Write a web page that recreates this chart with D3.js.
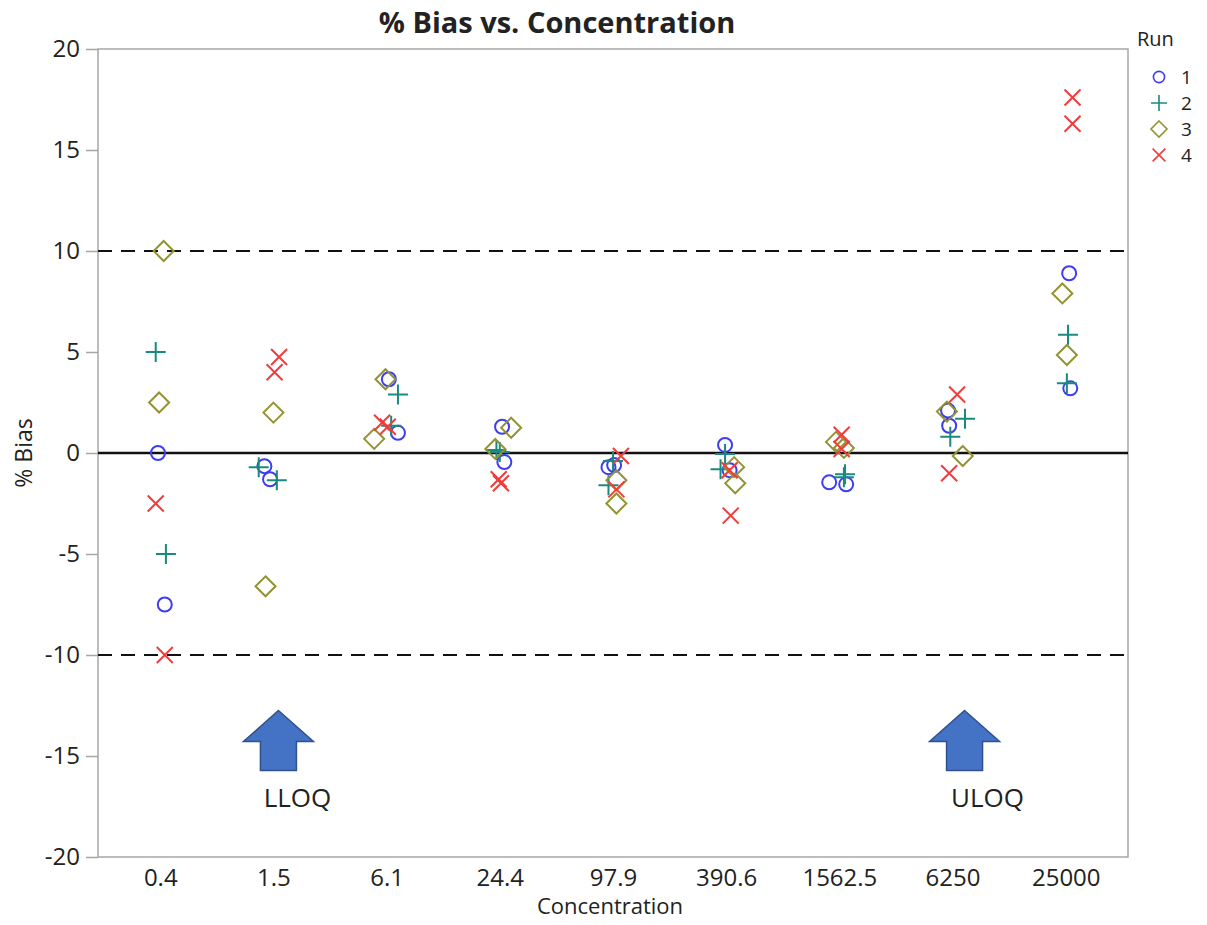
<!DOCTYPE html>
<html>
<head>
<meta charset="utf-8">
<script src="https://cdn.jsdelivr.net/npm/d3@7"></script>
<style>
  body { margin: 0; background: #fff; }
  text { font-family: "Open Sans", "Noto Sans", sans-serif; fill: #222; }
</style>
</head>
<body>
<script>
// concentrations on the x axis
const concentrations = ["0.4", "1.5", "6.1", "24.4", "97.9", "390.6", "1562.5", "6250", "25000"];
const runs = ["1", "2", "3", "4"];
const yTicks = [-20, -15, -10, -5, 0, 5, 10, 15, 20];

// % bias, two replicates per concentration
const run1 = [[0, -7.5], [-0.65, -1.3], [3.65, 1.0], [1.3, -0.45], [-0.6, -0.7], [0.4, -0.85], [-1.45, -1.55], [2.1, 1.35], [8.9, 3.2]];
const run2 = [[5, -5], [-0.7, -1.35], [2.9, 1.35], [0.15, 0.05], [-0.4, -1.6], [-0.05, -0.8], [-1.05, -1.2], [1.7, 0.8], [5.85, 3.45]];
const run3 = [[10, 2.5], [2.0, -6.6], [3.65, 0.7], [1.25, 0.2], [-1.35, -2.5], [-0.7, -1.5], [0.55, 0.25], [2.05, -0.15], [7.9, 4.85]];
const run4 = [[-2.5, -10], [4.75, 4.0], [1.5, 1.3], [-1.3, -1.5], [-0.15, -1.8], [-0.85, -3.1], [0.9, 0.2], [2.9, -1.0], [17.6, 16.3]];

// jitter of each point, in % of the category step
const jit1 = [[-2, 4], [-8, -3], [2, 10], [2, 4], [1, -4], [-1, 3], [-9, 6], [-4, -3], [3, 4]];
const jit2 = [[-4, 5], [-13, 3], [10, 4], [-3, 0], [0, -4], [-1, -5], [5, 4], [11, -2], [2, 1]];
const jit3 = [[3, -1], [0, -7], [-1, -11], [10, -4], [3, 3], [7, 8], [-3, 4], [-5, 9], [-3, 1]];
const jit4 = [[-4, 4], [5, 1], [-4, 1], [-1, 1], [7, 3], [3, 4], [2, 2], [4, -3], [6, 6]];

const limits = [-10, 10];
const annotations = [{ label: "LLOQ", at: "1.5" }, { label: "ULOQ", at: "6250" }];

const width = 1207, height = 925;
const plotLeft = 98, plotRight = 1128, plotTop = 49, plotBottom = 857;

const colors = ["#3d3df2", "#1b8a7e", "#939334", "#f03c3c"];

const svg = d3.select("body").append("svg")
  .attr("width", width)
  .attr("height", height);

const x = d3.scalePoint().domain(concentrations).range([plotLeft, plotRight]).padding(0.55);
const y = d3.scaleLinear().domain([-20, 20]).range([plotBottom, plotTop]);

// symbol paths
function markerPath(i) {
  const p = d3.path();
  if (i === 0) {
    p.arc(0, 0, 7, 0, 2 * Math.PI);
  } else if (i === 1) {
    p.moveTo(-10, 0); p.lineTo(10, 0);
    p.moveTo(0, -10); p.lineTo(0, 10);
  } else if (i === 2) {
    p.moveTo(0, -10); p.lineTo(10, 0); p.lineTo(0, 10); p.lineTo(-10, 0); p.closePath();
  } else {
    p.moveTo(-8, -8); p.lineTo(8, 8);
    p.moveTo(-8, 8); p.lineTo(8, -8);
  }
  return p.toString();
}

// frame
svg.append("rect")
  .attr("x", plotLeft).attr("y", plotTop)
  .attr("width", plotRight - plotLeft).attr("height", plotBottom - plotTop)
  .attr("fill", "none").attr("stroke", "#a6a6a6").attr("stroke-width", 1.5);

// y axis
const yAxis = svg.append("g")
  .attr("transform", `translate(${plotLeft},0)`)
  .call(d3.axisLeft(y).tickValues(yTicks).tickSize(12).tickPadding(6).tickFormat(d => String(d)));
yAxis.select(".domain").remove();
yAxis.selectAll(".tick line").attr("stroke", "#a6a6a6").attr("stroke-width", 1.5);
yAxis.selectAll(".tick text").style("font-size", "24px").attr("fill", "#222");

// x axis
const xAxis = svg.append("g")
  .attr("transform", `translate(0,${plotBottom})`)
  .call(d3.axisBottom(x).tickSize(0).tickPadding(12));
xAxis.select(".domain").remove();
xAxis.selectAll(".tick text").style("font-size", "24px").attr("fill", "#222");

// reference lines
svg.selectAll("line.limit")
  .data(limits)
  .join("line")
  .attr("class", "limit")
  .attr("x1", plotLeft).attr("x2", plotRight)
  .attr("y1", d => y(d)).attr("y2", d => y(d))
  .attr("stroke", "#111").attr("stroke-width", 2)
  .attr("stroke-dasharray", "14,9");

svg.append("line")
  .attr("x1", plotLeft).attr("x2", plotRight)
  .attr("y1", y(0)).attr("y2", y(0))
  .attr("stroke", "#111").attr("stroke-width", 2.5);

// points
const series = [run1, run2, run3, run4];
const jitters = [jit1, jit2, jit3, jit4];
const points = [];
series.forEach((s, r) => {
  s.forEach((pair, c) => {
    pair.forEach((v, k) => {
      points.push({ run: r, conc: concentrations[c], value: v, jitter: jitters[r][c][k] });
    });
  });
});

svg.append("g")
  .selectAll("path")
  .data(points)
  .join("path")
  .attr("transform", d => `translate(${x(d.conc) + d.jitter * x.step() / 100},${y(d.value)})`)
  .attr("d", d => markerPath(d.run))
  .attr("fill", "none")
  .attr("stroke", d => colors[d.run])
  .attr("stroke-width", 2);

// LLOQ / ULOQ arrows
const arrow = "M0,0 L35,31 L18,31 L18,60 L-18,60 L-18,31 L-35,31 Z";
const ann = svg.selectAll("g.ann")
  .data(annotations)
  .join("g")
  .attr("class", "ann")
  .attr("transform", d => `translate(${x(d.at) + (d.label === "LLOQ" ? 5 : 12)},${y(-12.75)})`);
ann.append("path")
  .attr("d", arrow)
  .attr("fill", "#4472c4")
  .attr("stroke", "#2f528f")
  .attr("stroke-width", 1.5);
ann.append("text")
  .attr("x", d => d.label === "LLOQ" ? 19 : 23)
  .attr("y", 96)
  .attr("text-anchor", "middle")
  .style("font-size", "26px")
  .attr("fill", "#111")
  .text(d => d.label);

// title and axis labels
svg.append("text")
  .attr("x", 557).attr("y", 33)
  .attr("text-anchor", "middle")
  .style("font-size", "29px").style("font-weight", "bold")
  .attr("fill", "#111")
  .text("% Bias vs. Concentration");

svg.append("text")
  .attr("x", 610).attr("y", 914)
  .attr("text-anchor", "middle")
  .style("font-size", "22px")
  .text("Concentration");

svg.append("text")
  .attr("transform", `translate(32,${y(0)}) rotate(-90)`)
  .attr("text-anchor", "middle")
  .style("font-size", "23px")
  .text("% Bias");

// legend
const legend = svg.append("g").attr("transform", "translate(1137,0)");
legend.append("text")
  .attr("x", 0).attr("y", 46)
  .style("font-size", "20px")
  .text("Run");
const rows = legend.selectAll("g.row")
  .data(runs)
  .join("g")
  .attr("class", "row")
  .attr("transform", (d, i) => `translate(22,${77 + i * 26})`);
rows.append("path")
  .attr("d", (d, i) => markerPath(i))
  .attr("transform", "scale(0.8)")
  .attr("fill", "none")
  .attr("stroke", (d, i) => colors[i])
  .attr("stroke-width", 2);
rows.append("text")
  .attr("x", 22).attr("y", 7)
  .style("font-size", "19px")
  .text(d => d);
</script>
</body>
</html>
